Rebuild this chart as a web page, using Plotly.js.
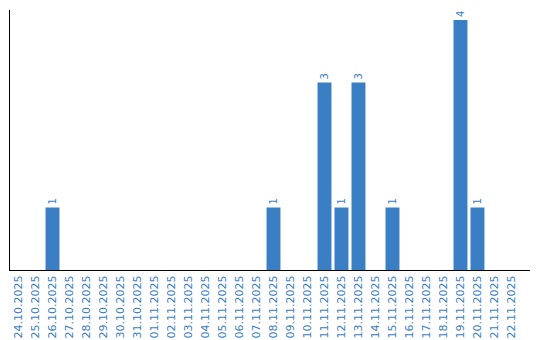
<!DOCTYPE html>
<html>
<head>
<meta charset="utf-8">
<script src="https://cdn.plot.ly/plotly-3.0.1.min.js"></script>
<style>
html,body{margin:0;padding:0;background:#fff;}
#chart{width:540px;height:340px;}
</style>
</head>
<body>
<div id="chart"></div>
<script>
const dates = ["24.10.2025","25.10.2025","26.10.2025","27.10.2025","28.10.2025","29.10.2025","30.10.2025","31.10.2025",
"01.11.2025","02.11.2025","03.11.2025","04.11.2025","05.11.2025","06.11.2025","07.11.2025","08.11.2025",
"09.11.2025","10.11.2025","11.11.2025","12.11.2025","13.11.2025","14.11.2025","15.11.2025","16.11.2025",
"17.11.2025","18.11.2025","19.11.2025","20.11.2025","21.11.2025","22.11.2025"];
const counts = [0,0,1,0,0,0,0,0,
0,0,0,0,0,0,0,1,
0,0,3,1,3,0,1,0,
0,0,4,1,0,0];
const labels = counts.map(v => v > 0 ? String(v) : "");

const blue = "#3a7ec3";
const trace = {
  type: "bar",
  x: dates,
  y: counts,
  text: labels,
  textposition: "outside",
  textangle: -90,
  cliponaxis: false,
  textfont: {family: "DejaVu Sans", size: 10, color: blue},
  marker: {color: blue},
  hoverinfo: "none"
};
const layout = {
  width: 540, height: 340,
  margin: {l: 10, r: 10, t: 10, b: 70},
  paper_bgcolor: "#fff", plot_bgcolor: "#fff",
  bargap: 0.18,
  showlegend: false,
  xaxis: {
    type: "category",
    range: [-0.5, 30.09],
    tickangle: -90,
    tickfont: {family: "DejaVu Sans", size: 11, color: blue},
    showline: true, linecolor: "#000", linewidth: 1,
    showgrid: false, zeroline: false, ticks: "", automargin: false
  },
  yaxis: {
    range: [0, 4.16],
    showline: true, linecolor: "#000", linewidth: 1,
    showgrid: false, zeroline: false, showticklabels: false, ticks: ""
  }
};
Plotly.newPlot("chart", [trace], layout, {displayModeBar: false, staticPlot: true});
</script>
</body>
</html>
